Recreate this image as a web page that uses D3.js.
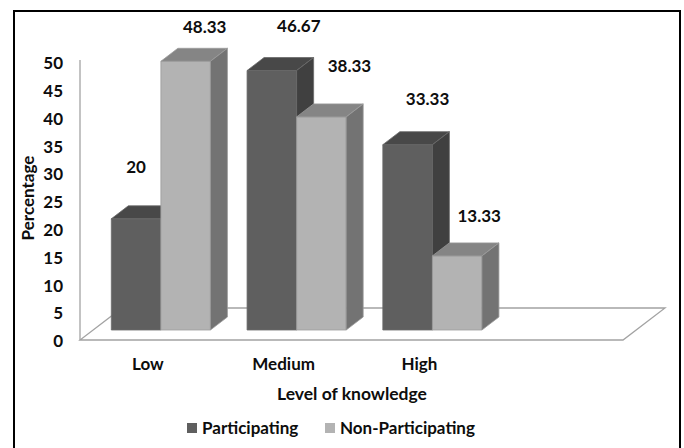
<!DOCTYPE html>
<html>
<head>
<meta charset="utf-8">
<script src="https://cdn.jsdelivr.net/npm/d3@7"></script>
<style>
  html, body { margin: 0; padding: 0; background: #fff; }
  svg { display: block; }
  text { font-family: Lato, "Open Sans", sans-serif; font-weight: 700; fill: #0d0d0d; }
</style>
</head>
<body>
<svg id="chart" width="684" height="448"></svg>
<script>
// Knowledge level by group (percent)
const categories = ["Low", "Medium", "High"];
const seriesNames = ["Participating", "Non-Participating"];
const participating = [20, 46.67, 33.33];
const nonParticipating = [48.33, 38.33, 13.33];
const yTicks = [0, 5, 10, 15, 20, 25, 30, 35, 40, 45, 50];

// Value label nudges [dx, dy] from the top-front of each bar
const labelNudge = {
  "Participating": [[0, -52], [27, -45], [20, -46]],
  "Non-Participating": [[19, -34], [28, -51], [22, -40]]
};

const faces = {
  "Participating": { front: "#5f5f5f", top: "#484848", side: "#404040", edge: "#6a6a6a" },
  "Non-Participating": { front: "#b3b3b3", top: "#858585", side: "#737373", edge: "#9c9c9c" }
};

const svg = d3.select("#chart");

// Plot floor extent (front edge) and projection depth
const plotLeft = 80, plotRight = 623;
const floorDepth = { dx: 42, dy: -32 };
const barShift = { dx: 13, dy: -10 };   // bars sit part-way into the floor
const barDepth = { dx: 17, dy: -13 };

const y = d3.scaleLinear().domain([0, 50]).range([340, 62]);
const slot = (plotRight - plotLeft) / 4;
const x = d3.scaleBand().domain(categories)
  .range([plotLeft, plotLeft + slot * categories.length]).padding(0);
const groupW = x.bandwidth() * 0.73;
const xs = d3.scaleBand().domain(seriesNames).range([0, groupW]).padding(0);

// Frame
svg.append("rect")
  .attr("x", 14).attr("y", 11).attr("width", 666).attr("height", 460)
  .attr("fill", "none").attr("stroke", "#000").attr("stroke-width", 2);

// Floor
const y0 = y(0);
svg.append("path")
  .attr("d", d3.line()([
    [plotLeft, y0], [plotRight, y0],
    [plotRight + floorDepth.dx, y0 + floorDepth.dy],
    [plotLeft + floorDepth.dx, y0 + floorDepth.dy]
  ]) + "Z")
  .attr("fill", "#fff").attr("stroke", "#a3a3a3").attr("stroke-width", 1.3);

// Vertical axis line
svg.append("line")
  .attr("x1", plotLeft).attr("x2", plotLeft)
  .attr("y1", y(0)).attr("y2", y(50) - 2)
  .attr("stroke", "#a3a3a3").attr("stroke-width", 1.3);

// Y tick labels
svg.append("g").selectAll("text").data(yTicks).join("text")
  .attr("x", 63).attr("y", d => y(d) + 1)
  .attr("dy", "0.36em")
  .attr("text-anchor", "end")
  .style("font-size", "17px")
  .text(d => d);

// Bars
const rows = [];
categories.forEach((c, i) => {
  rows.push({ cat: c, series: "Participating", value: participating[i], i });
  rows.push({ cat: c, series: "Non-Participating", value: nonParticipating[i], i });
});

const gx0 = (x.bandwidth() - groupW) / 2;
function barGeom(d) {
  const left = x(d.cat) + gx0 + xs(d.series) + barShift.dx;
  const right = left + xs.bandwidth();
  const bottom = y(0) + barShift.dy;
  const top = y(d.value) + barShift.dy;
  return { left, right, top, bottom };
}

const barG = svg.append("g");
rows.forEach(d => {
  const g = barG.append("g");
  const b = barGeom(d);
  const f = faces[d.series];
  const ddx = barDepth.dx, ddy = barDepth.dy;
  // front
  g.append("path")
    .attr("d", d3.line()([[b.left, b.bottom], [b.right, b.bottom], [b.right, b.top], [b.left, b.top]]) + "Z")
    .attr("fill", f.front).attr("stroke", f.edge).attr("stroke-width", 0.8);
  // top
  g.append("path")
    .attr("d", d3.line()([[b.left, b.top], [b.right, b.top], [b.right + ddx, b.top + ddy], [b.left + ddx, b.top + ddy]]) + "Z")
    .attr("fill", f.top).attr("stroke", f.edge).attr("stroke-width", 0.8);
  // side
  g.append("path")
    .attr("d", d3.line()([[b.right, b.bottom], [b.right + ddx, b.bottom + ddy], [b.right + ddx, b.top + ddy], [b.right, b.top]]) + "Z")
    .attr("fill", f.side).attr("stroke", f.edge).attr("stroke-width", 0.8);
});

// Value labels
svg.append("g").selectAll("text").data(rows).join("text")
  .attr("x", d => { const b = barGeom(d); return (b.left + b.right) / 2 + labelNudge[d.series][d.i][0]; })
  .attr("y", d => barGeom(d).top + labelNudge[d.series][d.i][1])
  .attr("dy", "0.36em")
  .attr("text-anchor", "middle")
  .style("font-size", "17px")
  .text(d => d.value);

// Category labels
svg.append("g").selectAll("text").data(categories).join("text")
  .attr("x", d => x(d) + x.bandwidth() / 2)
  .attr("y", 364)
  .attr("dy", "0.36em")
  .attr("text-anchor", "middle")
  .style("font-size", "17px")
  .text(d => d);

// Axis titles
svg.append("text")
  .attr("x", 352).attr("y", 394)
  .attr("dy", "0.36em")
  .attr("text-anchor", "middle")
  .style("font-size", "17.5px")
  .text("Level of knowledge");

svg.append("text")
  .attr("transform", "translate(28,198) rotate(-90)")
  .attr("dy", "0.36em")
  .attr("text-anchor", "middle")
  .style("font-size", "17px")
  .text("Percentage");

// Legend
const legend = svg.append("g");
const legendX = [187, 325];
seriesNames.forEach((s, k) => {
  legend.append("rect")
    .attr("x", legendX[k]).attr("y", 423).attr("width", 10).attr("height", 10)
    .attr("fill", faces[s].front);
  legend.append("text")
    .attr("x", legendX[k] + 15).attr("y", 428)
    .attr("dy", "0.36em")
    .style("font-size", "17px")
    .text(s);
});
</script>
</body>
</html>
